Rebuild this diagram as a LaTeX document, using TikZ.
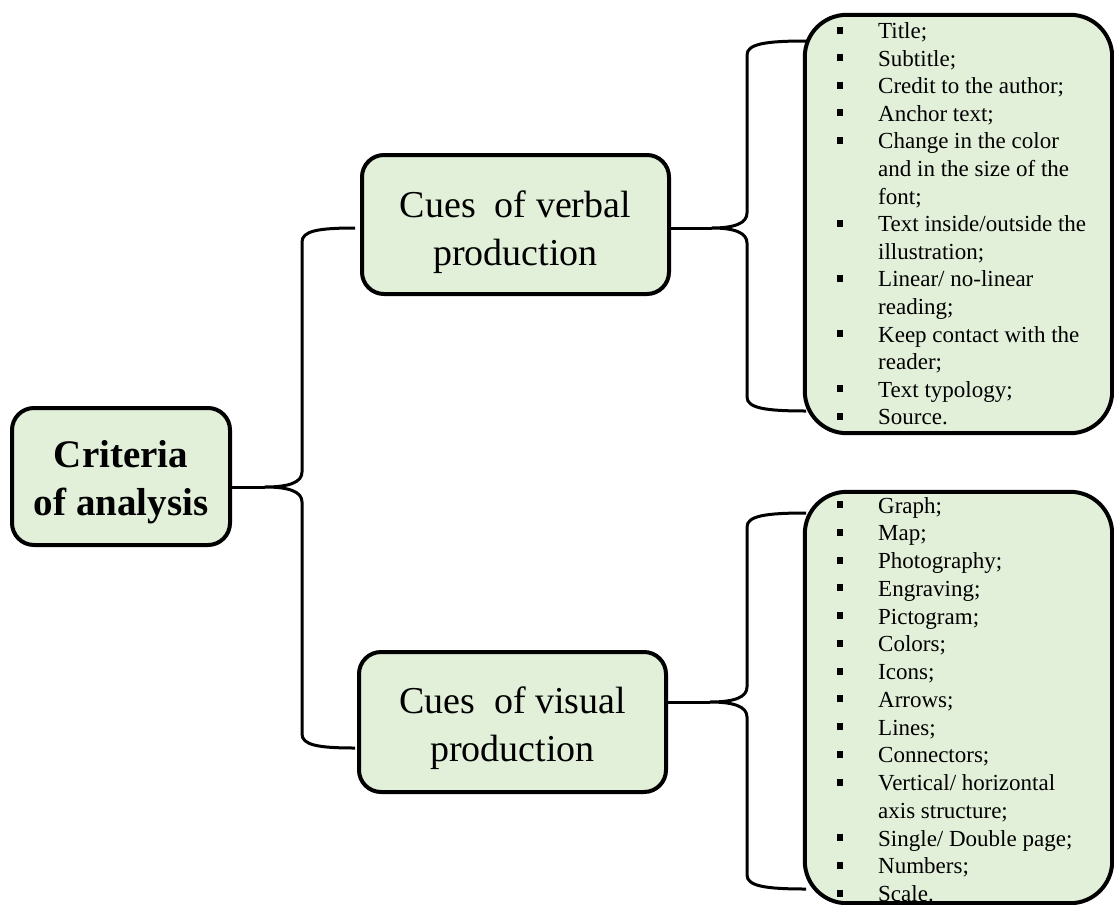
\documentclass[tikz,border=0pt]{standalone}
\usepackage{fontspec}
\setmainfont{Liberation Serif}
\definecolor{boxfill}{HTML}{E2EFD9}
\newcommand{\sqb}{\rule[5pt]{6pt}{7pt}}
\begin{document}
\begin{tikzpicture}[x=1pt,y=-1pt,
  mainbox/.style={draw=black, line width=4pt, fill=boxfill, rounded corners=22pt, inner sep=0pt},
  maintext/.style={align=center, inner sep=0pt, font=\fontsize{38}{48.5}\selectfont},
  listfill/.style={fill=boxfill, rounded corners=42pt, inner sep=0pt},
  listborder/.style={draw=black, line width=4pt, rounded corners=42pt},
  listtext/.style={anchor=base west, inner sep=0pt},
  brline/.style={draw=black, line width=3pt, line join=round}]
\useasboundingbox (0,0) rectangle (1114,905);

% main boxes
\node[mainbox, minimum width=218pt, minimum height=137pt] (crit) at (121,476.5) {};
\node[maintext, font=\bfseries\fontsize{39}{48}\selectfont] (critT) at (121,482) {Criteria\\of analysis};
\node[mainbox, minimum width=307pt, minimum height=139pt] (verb) at (515.5,224.5) {};
\node[maintext] (verbT) at (515.5,232) {Cues\ \ of verbal\\production};
\node[mainbox, minimum width=307pt, minimum height=140pt] (vis) at (512.5,722) {};
\node[maintext] (visT) at (512.5,728) {Cues\ \ of visual\\production};

% list boxes
\node[listfill, minimum width=307pt, minimum height=418pt] (vlist) at (958.5,224) {};
\node[listfill, minimum width=307pt, minimum height=411pt] (slist) at (958.5,697.5) {};

\node[listtext, font=\fontsize{23}{27.6}\selectfont] (vtext) at (837,38.5) {%
\begin{tabular}[t]{@{}p{41pt}@{}l@{}}
\sqb & Title;\\
\sqb & Subtitle;\\
\sqb & Credit to the author;\\
\sqb & Anchor text;\\
\sqb & Change in the color\\
     & and in the size of the\\
     & font;\\
\sqb & Text inside/outside the\\
     & illustration;\\
\sqb & Linear/\ no-linear\\
     & reading;\\
\sqb & Keep contact with\ the\\
     & reader;\\
\sqb & Text typology;\\
\sqb & Source.
\end{tabular}};

\node[listtext, font=\fontsize{23}{27.75}\selectfont] (stext) at (837,513) {%
\begin{tabular}[t]{@{}p{41pt}@{}l@{}}
\sqb & Graph;\\
\sqb & Map;\\
\sqb & Photography;\\
\sqb & Engraving;\\
\sqb & Pictogram;\\
\sqb & Colors;\\
\sqb & Icons;\\
\sqb & Arrows;\\
\sqb & Lines;\\
\sqb & Connectors;\\
\sqb & Vertical/\ horizontal\\
     & axis structure;\\
\sqb & Single/\ Double page;\\
\sqb & Numbers;\\
\sqb & Scale.
\end{tabular}};

\draw[listborder] (vlist.north west) rectangle (vlist.south east);
\draw[listborder] (slist.north west) rectangle (slist.south east);

% left brace
\coordinate (lbT) at (355,228);
\coordinate (lbB) at (355,748);
\coordinate (lbtip) at (265,487);
\draw[brline] (lbT) .. controls (318,228) and (302,231) .. (302,242) -- (302,472)
  .. controls (302,482) and (290,487) .. (lbtip)
  .. controls (290,487) and (302,492) .. (302,502) -- (302,734)
  .. controls (302,745) and (318,748) .. (lbB);
\draw[brline] (crit.east |- lbtip) -- (lbtip);

% verbal brace
\coordinate (rvT) at (806,41);
\coordinate (rvB) at (806,411);
\coordinate (rvtip) at (712,228);
\draw[brline] (rvT) .. controls (765,41) and (747,44) .. (747,55) -- (747,213)
  .. controls (747,223) and (735,228) .. (rvtip)
  .. controls (735,228) and (747,233) .. (747,243) -- (747,397)
  .. controls (747,408) and (765,411) .. (rvB);
\draw[brline] (verb.east |- rvtip) -- (rvtip);

% visual brace
\coordinate (rsT) at (806,513);
\coordinate (rsB) at (806,889);
\coordinate (rstip) at (710,702);
\draw[brline] (rsT) .. controls (765,513) and (747,516) .. (747,527) -- (747,687)
  .. controls (747,697) and (735,702) .. (rstip)
  .. controls (735,702) and (747,707) .. (747,717) -- (747,875)
  .. controls (747,886) and (765,889) .. (rsB);
\draw[brline] (vis.east |- rstip) -- (rstip);
\end{tikzpicture}
\end{document}
